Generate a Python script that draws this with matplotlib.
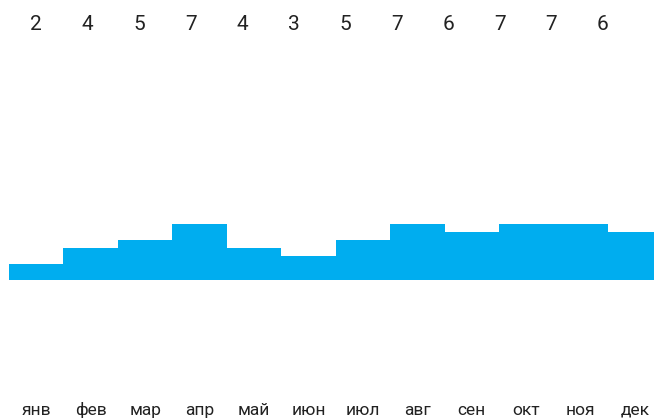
import numpy as np
import matplotlib
matplotlib.use("Agg")
import matplotlib.pyplot as plt

plt.rcParams['font.family'] = ['Roboto', 'DejaVu Sans']

# monthly values
months = ['янв', 'фев', 'мар', 'апр', 'май', 'июн',
          'июл', 'авг', 'сен', 'окт', 'ноя', 'дек']
values = [2, 4, 5, 7, 4, 3, 5, 7, 6, 7, 7, 6]

blue = '#00adef'
text_col = '#222222'

fig = plt.figure(figsize=(6.54, 4.19), dpi=100)
# axes starts a little right of the left edge, last step runs off the right edge
ax = fig.add_axes([9 / 654, 0, 1 - 9 / 654, 1])

x = np.arange(len(values))
edges = np.arange(len(values) + 1) - 0.5
ax.stairs(values, edges, fill=True, color=blue, baseline=0, linewidth=0)

# 54.45 px per month, 8 px per unit, baseline at y=279.5 px
ax.set_xlim(-0.5, -0.5 + 645 / 54.45)
ax.set_ylim(-(419 - 279.5) / 8, 279.5 / 8)
ax.axis('off')

# value labels along the top (spaced a bit tighter than the months)
label_step = 51.5 / 54.45
for i, v in enumerate(values):
    ax.text(i * label_step, 1 - 25 / 419, str(v), transform=ax.get_xaxis_transform(),
            ha='center', va='center', fontsize=15, color=text_col)

# month labels at the bottom
for i, m in enumerate(months):
    ax.text(x[i], 1 - 410 / 419, m, transform=ax.get_xaxis_transform(),
            ha='center', va='center', fontsize=12.5, color=text_col)

fig.savefig('out.png', dpi=100)
